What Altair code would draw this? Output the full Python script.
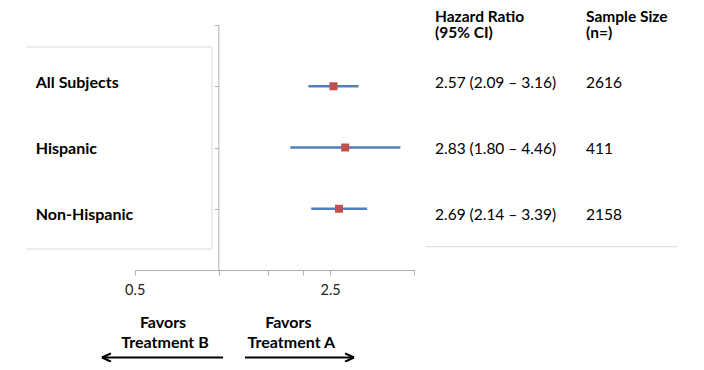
import altair as alt
import pandas as pd

# ---- data ----
groups = ["All Subjects", "Hispanic", "Non-Hispanic"]
hazard_ratio = [2.57, 2.83, 2.69]
ci_lower = [2.09, 1.80, 2.14]
ci_upper = [3.16, 4.46, 3.39]
sample_size = [2616, 411, 2158]
x_tick_values = [0.5, 1, 1.5, 2, 2.5, 5]
x_labelled = [0.5, 2.5]
header_hr = ["Hazard Ratio", "(95% CI)"]
header_n = ["Sample Size", "(n=)"]
favors_b = ["Favors", "Treatment B"]
favors_a = ["Favors", "Treatment A"]

df = pd.DataFrame({
    "group": groups,
    "hr": hazard_ratio,
    "lo": ci_lower,
    "hi": ci_upper,
    "n": sample_size,
})
df["row"] = list(range(len(groups), 0, -1))
df["hr_text"] = [f"{h:.2f} ({l:.2f} – {u:.2f})" for h, l, u in zip(hazard_ratio, ci_lower, ci_upper)]
df["n_text"] = [str(v) for v in sample_size]

FONT = "Lato"
AXIS_GRAY = "#AFAFAF"
BOX_GRAY = "#D9D9D9"

xscale = alt.Scale(type="log", domain=[0.5, 5], range=[126.7, 406.3], nice=False)
yscale = alt.Scale(domain=[0, 4], range=[262, 17], nice=False, zero=False)
tscale = alt.Scale(domain=[0, 4], range=[273.85, 8.05], nice=False, zero=False)

label_expr = "(" + " || ".join(f"datum.value == {v}" for v in x_labelled) + ") ? format(datum.value, '.1f') : ''"

base = alt.Chart(df)

ci = base.mark_rule(color="#4F81BD", strokeWidth=2.5).encode(
    x=alt.X("lo:Q", scale=xscale, axis=alt.Axis(
        orient="bottom", values=x_tick_values, labelExpr=label_expr, title=None,
        grid=False, domainColor=AXIS_GRAY, tickColor=AXIS_GRAY, tickSize=5,
        labelFont=FONT, labelFontSize=14.5, labelColor="#222222", labelPadding=8,
        labelOverlap=False, labelFlush=False)),
    x2="hi:Q",
    y=alt.Y("row:Q", scale=yscale, axis=alt.Axis(
        orient="left", offset=-210.3, values=[0, 1, 2, 3, 4], labels=False,
        title=None, grid=False, domainColor=AXIS_GRAY, tickColor=AXIS_GRAY,
        tickSize=4)),
)

pts = base.mark_square(size=64, color="#C0504D", opacity=1).encode(
    x=alt.X("hr:Q", scale=xscale),
    y=alt.Y("row:Q", scale=yscale, axis=None),
)


def col_text(field, x, bold, size):
    return base.mark_text(align="left", baseline="middle", font=FONT, fontSize=size,
                          fontWeight="bold" if bold else "normal", color="black").encode(
        x=alt.value(x),
        y=alt.Y("row:Q", scale=tscale, axis=None),
        text=f"{field}:N",
    )


def note(text, x, y, align="left", bold=True, size=16):
    return alt.Chart(pd.DataFrame({"t": [text]})).mark_text(
        align=align, baseline="middle", font=FONT, fontSize=size,
        fontWeight="bold" if bold else "normal", color="black").encode(
        x=alt.value(x), y=alt.value(y), text="t:N")


def seg(x1, x2, y1, y2, color, width):
    return alt.Chart(pd.DataFrame({"k": [0]})).mark_rule(color=color, strokeWidth=width).encode(
        x=alt.value(x1), x2=alt.value(x2), y=alt.value(y1), y2=alt.value(y2))


layers = [
    # left label box (top, right, bottom edges)
    seg(19, 204, 39, 39, BOX_GRAY, 1),
    seg(19, 204, 241, 241, BOX_GRAY, 1),
    seg(204, 204, 39, 241, BOX_GRAY, 1),
    # table bottom line
    seg(418, 669, 238.7, 238.7, BOX_GRAY, 1),
    ci, pts,
    col_text("group", 27.7, True, 16),
    col_text("hr_text", 427, False, 15.5),
    col_text("n_text", 578, False, 15.5),
    note(header_hr[0], 427, 8.6, size=15.5), note(header_hr[1], 427, 25, size=15.5),
    note(header_n[0], 578, 8.6, size=15.5), note(header_n[1], 578, 25, size=15.5),
    note(favors_b[0], 155, 315.3, "center"), note(favors_b[1], 157, 334.7, "center"),
    note(favors_a[0], 280.3, 315.3, "center"), note(favors_a[1], 283.3, 334.7, "center"),
    # arrows
    seg(94, 215, 349.5, 349.5, "black", 2),
    seg(94, 103, 349.5, 345.3, "black", 2),
    seg(94, 103, 349.5, 353.7, "black", 2),
    seg(237, 346, 349.5, 349.5, "black", 2),
    seg(346, 337, 349.5, 345.3, "black", 2),
    seg(346, 337, 349.5, 353.7, "black", 2),
]

chart = alt.layer(*layers).resolve_scale(y="independent").properties(
    width=688, height=262,
    autosize=alt.AutoSizeParams(type="none"),
    padding={"left": 0, "top": 0, "right": 0, "bottom": 92},
    background="white",
).configure_view(stroke=None)

chart.save("out.html", embed_options={"renderer": "svg", "actions": False})
